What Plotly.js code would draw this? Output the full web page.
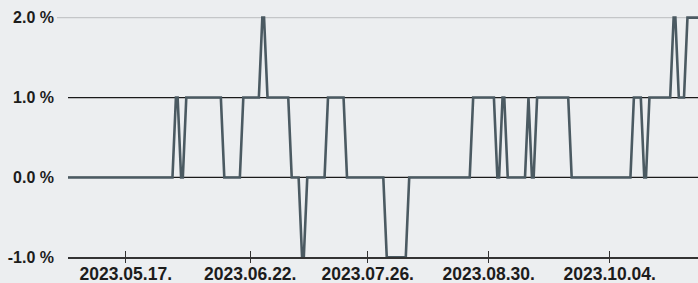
<!DOCTYPE html>
<html>
<head>
<meta charset="utf-8">
<script src="https://cdn.plot.ly/plotly-3.0.1.min.js"></script>
<style>
  html, body { margin: 0; padding: 0; background: #eceef0; }
  #chart { width: 698px; height: 283px; }
</style>
</head>
<body>
<div id="chart"></div>
<script>
// Series vertices (date, value in %)
const dates = [
  '2023-04-29', '2023-05-30 12:00', '2023-05-31 12:00', '2023-06-01', '2023-06-02',
  '2023-06-02 12:00', '2023-06-03 12:00', '2023-06-13 12:00', '2023-06-14 12:00',
  '2023-06-19', '2023-06-20', '2023-06-24 12:00', '2023-06-25 12:00', '2023-06-26',
  '2023-06-27', '2023-07-03', '2023-07-04', '2023-07-06', '2023-07-07',
  '2023-07-07 12:00', '2023-07-08 12:00', '2023-07-13 12:00', '2023-07-14 12:00',
  '2023-07-19', '2023-07-20', '2023-07-30 12:00', '2023-07-31 12:00', '2023-08-06',
  '2023-08-07', '2023-08-24 12:00', '2023-08-25 12:00', '2023-08-31 12:00',
  '2023-09-01 12:00', '2023-09-02', '2023-09-03', '2023-09-03 12:00', '2023-09-04 12:00',
  '2023-09-09 12:00', '2023-09-10 12:00', '2023-09-11 12:00', '2023-09-12', '2023-09-13',
  '2023-09-22', '2023-09-23', '2023-10-10', '2023-10-11', '2023-10-13', '2023-10-14',
  '2023-10-14 12:00', '2023-10-15 12:00', '2023-10-21 12:00', '2023-10-22 12:00',
  '2023-10-23', '2023-10-24', '2023-10-25 12:00', '2023-10-26 12:00', '2023-10-31'
];
const values = [
  0, 0, 1, 1, 0,
  0, 1, 1, 0,
  0, 1, 1, 2, 2,
  1, 1, 0, 0, -1,
  -1, 0, 0, 1,
  1, 0, 0, -1, -1,
  0, 0, 1, 1,
  0, 0, 1, 1, 0,
  0, 1, 0, 0, 1,
  1, 0, 0, 1, 1, 0,
  0, 1, 1, 2,
  2, 1, 1, 2, 2
];
const tickDates = ['2023-05-17', '2023-06-22', '2023-07-26', '2023-08-30', '2023-10-04'];
const tickLabels = ['2023.05.17.', '2023.06.22.', '2023.07.26.', '2023.08.30.', '2023.10.04.'];
const yTicks = [-1, 0, 1, 2];
const yTickLabels = ['-1.0 %', '0.0 %', '1.0 %', '2.0 %'];

const xRange = ['2023-04-30 06:40', '2023-10-29 13:10'];
const yRange = [-1.02, 2.02];
const axisPos = (yTicks[0] - yRange[0]) / (yRange[1] - yRange[0]);

const trace = {
  x: dates, y: values, type: 'scatter', mode: 'lines',
  line: { color: '#4b5a62', width: 2.6 },
  hoverinfo: 'skip', showlegend: false
};

const font = { family: 'Liberation Sans, Arial, sans-serif', color: '#1c1c1c' };

const layout = {
  width: 698, height: 283,
  margin: { l: 68, r: 0, t: 16, b: 24, pad: 0 },
  paper_bgcolor: '#eceef0', plot_bgcolor: '#eceef0',
  showlegend: false,
  xaxis: {
    type: 'date', range: xRange, anchor: 'free', position: axisPos,
    tickmode: 'array', tickvals: tickDates, ticktext: tickLabels,
    ticks: 'inside', ticklen: 6, tickwidth: 1.2, tickcolor: '#333',
    showline: true, linecolor: '#333', linewidth: 1.5,
    showgrid: false, zeroline: false, ticklabelstandoff: 0,
    tickfont: Object.assign({ size: 17.5, weight: 'bold' }, font)
  },
  xaxis2: {
    type: 'date', range: xRange, overlaying: 'x', anchor: 'free', position: axisPos,
    tickmode: 'array', tickvals: tickDates,
    ticks: 'outside', ticklen: 5, tickwidth: 1.2, tickcolor: '#333',
    showticklabels: false, showline: false, showgrid: false, zeroline: false
  },
  yaxis: {
    range: yRange, tickmode: 'array', tickvals: yTicks, ticktext: yTickLabels,
    ticks: '', showgrid: false, zeroline: false, showline: false,
    ticklabelstandoff: 13,
    tickfont: Object.assign({ size: 16, weight: 'bold' }, font)
  },
  shapes: [
    { type: 'line', xref: 'paper', yref: 'y', x0: -0.0175, x1: 1, y0: yTicks[3], y1: yTicks[3],
      line: { color: '#c4c6c8', width: 1.2 }, layer: 'below' },
    { type: 'line', xref: 'paper', yref: 'y', x0: 0, x1: 1, y0: yTicks[2], y1: yTicks[2],
      line: { color: '#1a1a1a', width: 1.2 }, layer: 'below' },
    { type: 'line', xref: 'paper', yref: 'y', x0: 0, x1: 1, y0: yTicks[1], y1: yTicks[1],
      line: { color: '#1a1a1a', width: 1.2 }, layer: 'below' }
  ]
};

Plotly.newPlot('chart', [trace, { x: [], y: [], xaxis: 'x2', type: 'scatter', mode: 'lines', showlegend: false, hoverinfo: 'skip' }], layout, { displayModeBar: false, staticPlot: true });
</script>
</body>
</html>
